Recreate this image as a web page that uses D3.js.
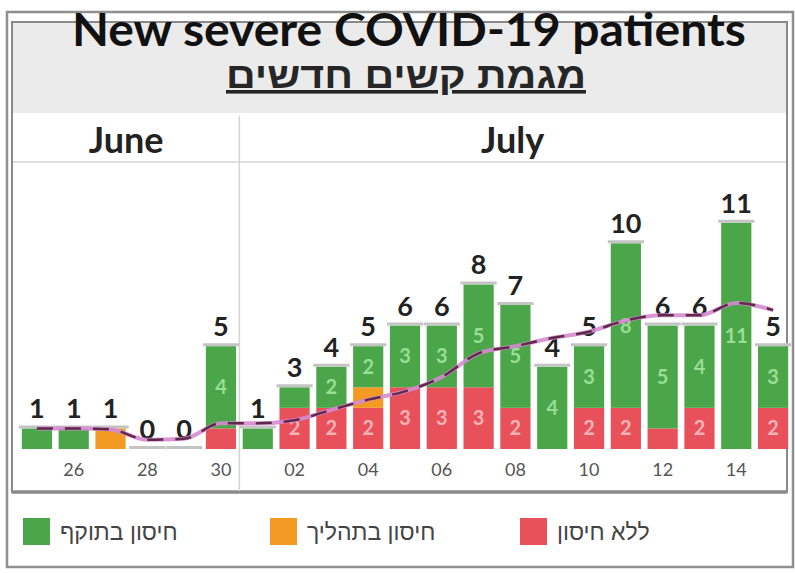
<!DOCTYPE html>
<html>
<head>
<meta charset="utf-8">
<script src="https://cdn.jsdelivr.net/npm/d3@7"></script>
<style>
  body { margin: 0; background: #fff; }
  svg { display: block; }
</style>
</head>
<body>
<svg id="chart" width="795" height="573"></svg>
<script>
// data
const days = ['25', '26', '27', '28', '29', '30', '01', '02', '03', '04', '05', '06', '07', '08', '09', '10', '11', '12', '13', '14', '15'];
const months = [{name: 'June', from: 0, to: 5}, {name: 'July', from: 6, to: 20}];
const noVaccine = [0, 0, 0, 0, 0, 1, 0, 2, 2, 2, 3, 3, 3, 2, 0, 2, 2, 1, 2, 0, 2];
const inProcess = [0, 0, 1, 0, 0, 0, 0, 0, 0, 1, 0, 0, 0, 0, 0, 0, 0, 0, 0, 0, 0];
const validVaccine = [1, 1, 0, 0, 0, 4, 1, 1, 2, 2, 3, 3, 5, 5, 4, 3, 8, 5, 4, 11, 3];
const trend = [1.0, 1.0, 0.95, 0.45, 0.5, 1.25, 1.25, 1.4, 1.9, 2.4, 2.8, 3.5, 4.65, 5.0, 5.4, 5.7, 6.25, 6.5, 6.5, 7.1, 6.75];
const seriesNames = ['ללא חיסון', 'חיסון בתהליך', 'חיסון בתוקף'];
const colors = ['#e8505a', '#f39a24', '#4ba64a'];
const labelColors = ['#f8b3b6', '#fbd29c', '#98de95'];

const svg = d3.select('#chart');

// frames and title panel
svg.append('rect').attr('x', 7).attr('y', 12).attr('width', 786).attr('height', 555)
    .attr('fill', 'none').attr('stroke', '#8f8f8f').attr('stroke-width', 2.5);
svg.append('rect').attr('x', 12).attr('y', 22).attr('width', 775).attr('height', 91)
    .attr('fill', '#ebebeb');
svg.append('rect').attr('x', 12).attr('y', 22).attr('width', 775).attr('height', 470)
    .attr('fill', 'none').attr('stroke', '#8a8a8a').attr('stroke-width', 2);
svg.append('line').attr('x1', 12).attr('x2', 787).attr('y1', 492).attr('y2', 492)
    .attr('stroke', '#8a8a8a').attr('stroke-width', 3.5);

svg.append('text').attr('x', 409).attr('y', 45.5).attr('text-anchor', 'middle')
    .style('font-family', 'Lato, sans-serif').style('font-weight', 700).style('font-size', '46px')
    .attr('textLength', 674).attr('lengthAdjust', 'spacingAndGlyphs')
    .attr('fill', '#111').text('New severe COVID-19 patients');
svg.append('text').attr('x', 406).attr('y', 88).attr('text-anchor', 'middle')
    .style('font-family', '"Liberation Sans", sans-serif').style('font-weight', 700).style('font-size', '36px')
    .attr('textLength', 360).attr('lengthAdjust', 'spacingAndGlyphs')
    .style('text-decoration', 'underline')
    .attr('fill', '#262626').text('מגמת קשים חדשים');

// scales
const x = d3.scaleBand().domain(d3.range(days.length)).range([18.5, 791.5])
    .paddingInner(0.18).paddingOuter(0.09);
const y = d3.scaleLinear().domain([0, 14]).range([449, 161]);
const cx = i => x(i) + x.bandwidth() / 2;
const divider = (x(5) + x.bandwidth() + x(6)) / 2;

// month header
svg.append('line').attr('x1', 13).attr('x2', 786).attr('y1', 162).attr('y2', 162)
    .attr('stroke', '#d4d4d4').attr('stroke-width', 1.5);
svg.append('line').attr('x1', divider).attr('x2', divider).attr('y1', 116).attr('y2', 491)
    .attr('stroke', '#d4d4d4').attr('stroke-width', 1.5);
const monthBounds = [13, divider, 786];
svg.selectAll('.month').data(months).enter().append('text')
    .attr('x', (d, i) => (monthBounds[i] + monthBounds[i + 1]) / 2)
    .attr('y', 153).attr('text-anchor', 'middle')
    .style('font-family', 'Lato, sans-serif').style('font-weight', 700).style('font-size', '36px')
    .attr('fill', '#222').text(d => d.name);

// stacked bars
const rows = days.map((d, i) => ({i: i, s0: noVaccine[i], s1: inProcess[i], s2: validVaccine[i]}));
const stack = d3.stack().keys(['s0', 's1', 's2'])(rows);

const layers = svg.selectAll('.layer').data(stack).enter().append('g')
    .attr('fill', (d, k) => colors[k]);
layers.selectAll('rect').data(d => d).enter().append('rect')
    .attr('x', d => x(d.data.i))
    .attr('width', x.bandwidth())
    .attr('y', d => y(d[1]))
    .attr('height', d => y(d[0]) - y(d[1]));
layers.selectAll('text').data((d, k) => d.map(p => ({p: p, k: k})).filter(o => o.p[1] - o.p[0] >= 2))
    .enter().append('text')
    .attr('x', o => cx(o.p.data.i))
    .attr('y', o => (y(o.p[0]) + y(o.p[1])) / 2 + 7)
    .attr('text-anchor', 'middle')
    .style('font-family', 'Lato, sans-serif').style('font-weight', 700).style('font-size', '20px')
    .attr('fill', o => labelColors[o.k])
    .text(o => o.p[1] - o.p[0]);

// totals with grey caps
const totals = rows.map(r => r.s0 + r.s1 + r.s2);
svg.selectAll('.cap').data(totals).enter().append('line')
    .attr('x1', (d, i) => x(i) - 3).attr('x2', (d, i) => x(i) + x.bandwidth() + 3)
    .attr('y1', d => y(d) - 1.5).attr('y2', d => y(d) - 1.5)
    .attr('stroke', '#c4c4c4').attr('stroke-width', 3);
svg.selectAll('.total').data(totals).enter().append('text')
    .attr('x', (d, i) => cx(i)).attr('y', d => y(d) - 10)
    .attr('text-anchor', 'middle')
    .style('font-family', 'Lato, sans-serif').style('font-weight', 700).style('font-size', '27px')
    .attr('fill', '#222').text(d => d);

// trend line
const line = d3.line().x((d, i) => cx(i)).y(d => y(d)).curve(d3.curveMonotoneX);
svg.append('path').datum(trend).attr('d', line)
    .attr('fill', 'none').attr('stroke', '#d58ad2').attr('stroke-width', 4).attr('opacity', 0.9);
svg.append('path').datum(trend).attr('d', line)
    .attr('fill', 'none').attr('stroke', '#5e2a48').attr('stroke-width', 2.5)
    .attr('stroke-dasharray', '16,12');

// x axis
const evenTicks = d3.range(days.length).filter(i => +days[i] % 2 === 0);
const xAxis = d3.axisBottom(x).tickValues(evenTicks).tickFormat(i => days[i]).tickSize(0);
const axisG = svg.append('g').attr('transform', 'translate(0, 460)').call(xAxis);
axisG.select('.domain').remove();
axisG.selectAll('text')
    .style('font-family', 'Lato, sans-serif').style('font-size', '18px').attr('fill', '#555');

// legend
const legendX = [23, 270, 520];
const legendOrder = [2, 1, 0];
const legend = svg.selectAll('.legend').data(legendOrder).enter().append('g')
    .attr('transform', (d, i) => `translate(${legendX[i]}, 518)`);
legend.append('rect').attr('width', 27).attr('height', 27).attr('fill', k => colors[k]);
legend.append('text').attr('x', 37).attr('y', 22)
    .style('font-family', '"Liberation Sans", sans-serif').style('font-size', '23px')
    .attr('fill', '#444').text(k => seriesNames[k]);
</script>
</body>
</html>
